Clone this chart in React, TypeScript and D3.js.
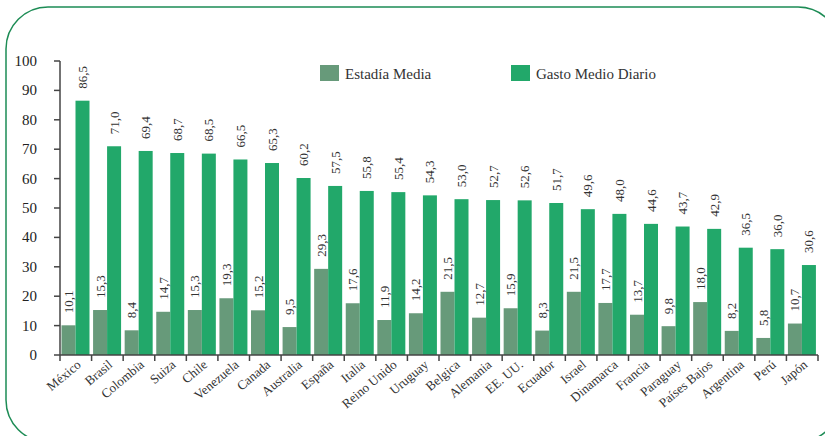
import React from 'react'
import * as d3 from 'd3'

const countries = ['México', 'Brasil', 'Colombia', 'Suiza', 'Chile', 'Venezuela', 'Canada', 'Australia', 'España', 'Italia', 'Reino Unido', 'Uruguay', 'Belgica', 'Alemania', 'EE. UU.', 'Ecuador', 'Israel', 'Dinamarca', 'Francia', 'Paraguay', 'Países Bajos', 'Argentina', 'Perú', 'Japón']
const estadia = [10.1, 15.3, 8.4, 14.7, 15.3, 19.3, 15.2, 9.5, 29.3, 17.6, 11.9, 14.2, 21.5, 12.7, 15.9, 8.3, 21.5, 17.7, 13.7, 9.8, 18.0, 8.2, 5.8, 10.7]
const gasto = [86.5, 71.0, 69.4, 68.7, 68.5, 66.5, 65.3, 60.2, 57.5, 55.8, 55.4, 54.3, 53.0, 52.7, 52.6, 51.7, 49.6, 48.0, 44.6, 43.7, 42.9, 36.5, 36.0, 30.6]
const yTicks = [0, 10, 20, 30, 40, 50, 60, 70, 80, 90, 100]

const C_EST = '#679a7a'
const C_GAS = '#22a86a'
const FONT = '"Liberation Serif", "DejaVu Serif", serif'
const fmt = (v: number) => v.toFixed(1).replace('.', ',')

export default function App() {
  const width = 825
  const height = 436
  const x = d3.scaleBand<string>().domain(countries).range([60, 818]).padding(0)
  const sub = d3.scaleBand<string>().domain(['e', 'g']).range([1.5, 29.5]).padding(0)
  const y = d3.scaleLinear().domain([0, 100]).range([355, 61])
  const bw = sub.bandwidth()
  const axisColor = '#444'

  const series = [
    { key: 'e', values: estadia, color: C_EST },
    { key: 'g', values: gasto, color: C_GAS },
  ]

  return (
    <svg width={width} height={height} style={{ position: 'absolute', left: 0, top: 0 }} fontFamily={FONT}>
      <rect x={6} y={7} width={834} height={435} rx={42} fill="none" stroke="#1d8c55" strokeWidth={1.5} />

      {/* bars */}
      {series.map(s => (
        <g key={s.key}>
          {countries.map((c, i) => (
            <rect key={c} x={(x(c) ?? 0) + (sub(s.key) ?? 0)} y={y(s.values[i])} width={bw} height={y(0) - y(s.values[i])} fill={s.color} />
          ))}
        </g>
      ))}

      {/* value labels */}
      {series.map(s => (
        <g key={'l' + s.key}>
          {countries.map((c, i) => {
            const cx = (x(c) ?? 0) + (sub(s.key) ?? 0) + bw / 2 + 4.5
            const cy = y(s.values[i]) - 12
            return (
              <text key={c} transform={`translate(${cx},${cy}) rotate(-90)`} fontSize={13} fill="#333">{fmt(s.values[i])}</text>
            )
          })}
        </g>
      ))}

      {/* y axis */}
      <line x1={60} x2={60} y1={y(100)} y2={y(0)} stroke={axisColor} strokeWidth={1.5} />
      {yTicks.map(t => (
        <g key={t}>
          <line x1={54} x2={60} y1={y(t)} y2={y(t)} stroke={axisColor} strokeWidth={1.5} />
          <text x={37} y={y(t) + 5} textAnchor="end" fontSize={15} fill="#222">{t}</text>
        </g>
      ))}

      {/* x axis */}
      <line x1={60} x2={818} y1={y(0)} y2={y(0)} stroke={axisColor} strokeWidth={1.5} />
      {[...countries.map(c => x(c) ?? 0), 818].map((tx, i) => (
        <line key={i} x1={tx} x2={tx} y1={y(0)} y2={y(0) + 6} stroke={axisColor} strokeWidth={1.5} />
      ))}
      {countries.map(c => {
        const cx = (x(c) ?? 0) + x.bandwidth() / 2 + 6
        return (
          <text key={c} transform={`translate(${cx},366) rotate(-40)`} textAnchor="end" fontSize={13} fill="#333">{c}</text>
        )
      })}

      {/* legend */}
      <rect x={320} y={65} width={19} height={16} fill={C_EST} />
      <text x={345} y={79} fontSize={15} fill="#333">Estadía Media</text>
      <rect x={511} y={65} width={19} height={16} fill={C_GAS} />
      <text x={536} y={79} fontSize={15} fill="#333">Gasto Medio Diario</text>
    </svg>
  )
}
